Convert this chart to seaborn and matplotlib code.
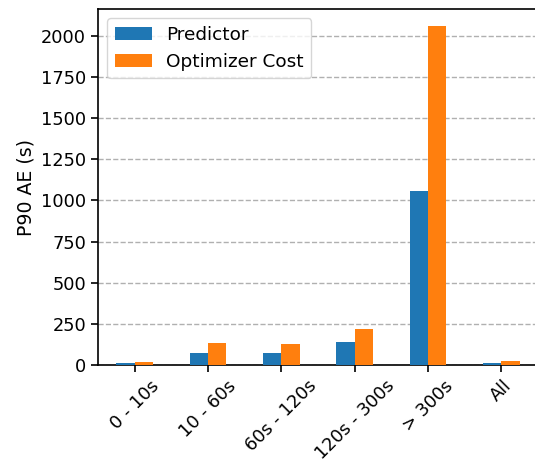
import matplotlib
matplotlib.use("Agg")
import matplotlib.pyplot as plt
import seaborn as sns
import pandas as pd

categories = ["0 - 10s", "10 - 60s", "60s - 120s", "120s - 300s", "> 300s", "All"]
predictor = [14, 75, 75, 140, 1058, 14]
optimizer_cost = [20, 136, 130, 219, 2061, 26]
series_names = ["Predictor", "Optimizer Cost"]

df = pd.DataFrame({
    "bucket": categories * 2,
    "value": predictor + optimizer_cost,
    "method": [series_names[0]] * len(categories) + [series_names[1]] * len(categories),
})

plt.rcParams["font.family"] = ["DejaVu Sans"]
plt.rcParams["font.size"] = 13

fig = plt.figure(figsize=(5.35, 4.66), dpi=100)
ax = fig.add_axes([98 / 535, 101 / 466, 440 / 535, 356 / 466])

sns.barplot(data=df, x="bucket", y="value", hue="method",
            palette=["#1f77b4", "#ff7f0e"], width=0.5, saturation=1,
            linewidth=0, edgecolor="none", ax=ax, zorder=3)

ax.yaxis.grid(True, linestyle="--", color="#b0b0b0", linewidth=1.0, zorder=0)
ax.set_axisbelow(True)
ax.set_xlabel("")
ax.set_ylabel("P90 AE (s)", fontsize=13.6)
ax.set_xlim(-0.5, 5.5)
ax.set_ylim(0, 2164)
ax.set_yticks([0, 250, 500, 750, 1000, 1250, 1500, 1750, 2000])
ax.tick_params(axis="both", labelsize=12.8, length=5, width=1.2,
               colors="black", bottom=True, left=True)
plt.setp(ax.get_xticklabels(), rotation=45, ha="center")
for s in ax.spines.values():
    s.set_linewidth(1.2)
    s.set_color("black")

ax.legend(title=None, loc="upper left", fontsize=13.3, frameon=True,
          fancybox=True, framealpha=0.8, edgecolor="#cccccc",
          handlelength=2.0, borderaxespad=0.5)

fig.savefig("out.png", dpi=100)
